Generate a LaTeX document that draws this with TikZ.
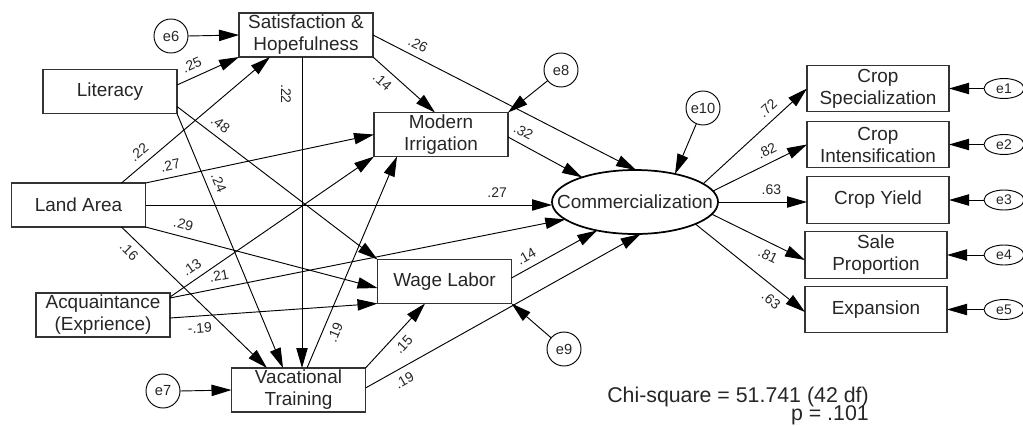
\documentclass[tikz,border=0pt]{standalone}
\usepackage{fontspec}
\setmainfont{Liberation Sans}
\usetikzlibrary{arrows.meta,calc,shapes.geometric}
\begin{document}
\begin{tikzpicture}[x=0.75pt,y=-0.75pt,
  box/.style={draw=black!80, line width=0.8pt, rectangle, minimum width=100.5pt, minimum height=33pt, inner sep=0pt, outer sep=0pt, align=center, font=\fontsize{14.2}{16.5}\selectfont, text=black!85},
  ind/.style={box, minimum width=106.5pt, minimum height=35pt},
  err/.style={draw, circle, line width=0.7pt, minimum size=25.5pt, inner sep=0pt, outer sep=0pt, font=\fontsize{11}{12}\selectfont, text=black!85},
  erre/.style={draw, ellipse, line width=0.7pt, minimum width=30pt, minimum height=15pt, inner sep=0pt, outer sep=0pt, font=\fontsize{10.5}{12}\selectfont, text=black!85},
  latent/.style={draw, ellipse, line width=1.3pt, minimum width=124.5pt, minimum height=48pt, inner sep=0pt, outer sep=0pt, font=\fontsize{14.2}{16.5}\selectfont, text=black!85},
  arr/.style={-{Triangle[length=15pt,width=8.5pt]}, line width=0.7pt},
  labf/.style={font=\fontsize{10.5}{11}\selectfont, text=black!85, inner sep=1pt},
  lab/.style={labf, sloped},
]
\useasboundingbox (0,0) rectangle (1023,425);
% observed boxes
\node[box] (sat) at (306,35) {Satisfaction \&\\Hopefulness};
\node[box] (lit) at (110,91.5) {Literacy};
\node[box] (land) at (78.5,205) {Land Area};
\node[box] (acq) at (103,315) {Acquaintance\\(Exprience)};
\node[box] (voc) at (298.5,390) {Vacational\\Training};
\node[box] (mod) at (441,134.5) {Modern\\Irrigation};
\node[box] (wage) at (444.5,281.5) {Wage Labor};
\node[latent] (comm) at (635,202) {\makebox[0pt]{Commercialization}};
\node[ind] (y1) at (878,88.5) {Crop\\Specialization};
\node[ind] (y2) at (878,144.5) {Crop\\Intensification};
\node[ind] (y3) at (878,200) {Crop Yield};
\node[ind] (y4) at (876,255) {Sale\\Proportion};
\node[ind] (y5) at (876,309.5) {Expansion};
% errors
\node[err] (e6) at (171,36) {e6};
\node[err] (e7) at (163,391) {e7};
\node[err] (e8) at (561,70) {e8};
\node[err] (e9) at (564,349) {e9};
\node[err] (e10) at (703,108) {e10};
\node[erre] (e1) at (1004,88.5) {e1};
\node[erre] (e2) at (1004,144.5) {e2};
\node[erre] (e3) at (1004,200) {e3};
\node[erre] (e4) at (1004,255) {e4};
\node[erre] (e5) at (1004,309.5) {e5};
% error arrows
\draw[arr] (e6.east) -- (sat.west);
\draw[arr] (e7.east) -- (voc.west);
\draw[arr] (e8) -- (mod.north east);
\draw[arr] (e9) -- (wage.south east);
\draw[arr] (e10) -- (comm.35);
\foreach \i in {1,...,5}{\draw[arr] (e\i.west) -- (y\i.east);}
% structural paths
\draw[arr] ($(lit.east)+(0,-6.5)$) -- (sat.south west) node[lab,pos=0.32,above=4pt]{.25};
\draw[arr] ($(land.north)+(43,0)$) -- ($(sat.south)+(-36,0)$) node[lab,pos=0.17,above=4pt]{.22};
\draw[arr] ($(lit.east)+(0,15)$) -- (wage.north west) node[lab,pos=0.18,above=4pt]{.48};
\draw[arr] (lit.south east) -- ($(voc.north)+(-15.5,0)$) node[lab,pos=0.29,above=4pt]{.24};
\draw[arr] (land.north east) -- (mod.west) node[lab,pos=0.12,above=4pt]{.27};
\draw[arr] (land.east) -- (land.east -| comm.west) node[lab,pos=0.865,above=4pt]{.27};
\draw[arr] (land.south east) -- ($(wage.west)+(0,6.5)$) node[lab,pos=0.15,above=4pt]{.29};
\draw[arr] ($(land.south)+(43,0)$) -- ($(voc.north)+(-31.5,0)$) node[lab,pos=0.11,below=4pt]{.16};
\draw[arr] ($(acq.north east)+(0,4)$) -- (mod.south west) node[lab,pos=0.14,above=4pt]{.13};
\draw[arr] ($(acq.north east)+(0,5)$) -- (comm.194) node[lab,pos=0.13,above=4pt]{.21};
\draw[arr] ($(acq.east)+(0,3)$) -- (wage.south west) node[lab,pos=0.14,below=4pt]{-.19};
\draw[arr] ($(sat.south)+(-4,0)$) coordinate (sv) -- (sv |- voc.north);
\node[labf, rotate=-90] (l22) at (286,94) {.22};
\draw[arr] (sat.south east) -- ($(mod.north)+(-6,0)$) node[lab,pos=0.28,below=4pt]{.14};
\draw[arr] (sat.east) -- (comm.88) node[lab,pos=0.15,above=4pt]{.26};
\draw[arr] ($(mod.east)+(0,2.5)$) -- (comm.155) node[lab,pos=0.13,above=4pt]{.32};
\draw[arr] ($(voc.north)+(8.5,0)$) -- ($(mod.south)+(-44,0)$) node[lab,pos=0.19,below=4pt]{.19};
\draw[arr] (voc.north east) -- ($(wage.south)+(-19.5,0)$) node[lab,pos=0.49,below=4pt]{.15};
\draw[arr] ($(voc.east)+(0,-2)$) -- (comm.-80) node[lab,pos=0.12,below=4pt]{.19};
\draw[arr] ($(wage.east)+(0,-3.5)$) -- (comm.217) node[lab,pos=0.24,above=4pt]{.14};
% measurement paths
\draw[arr] (comm.15) -- (y1.west) node[lab,pos=0.70,above=4pt]{.72};
\draw[arr] (comm.8) -- (y2.west) node[lab,pos=0.63,above=4pt]{.82};
\draw[arr] (comm.east) -- (comm.east -| y3.west) node[lab,pos=0.6,above=4pt]{.63};
\draw[arr] (comm.-9) -- ($(y4.west)+(0,5)$) node[lab,pos=0.66,below=4pt]{.81};
\draw[arr] (comm.-20) -- ($(y5.west)+(0,2.5)$) node[lab,pos=0.76,below=4pt]{.63};
% fit
\node[font=\fontsize{16}{18}\selectfont, text=black!85, anchor=base east, inner sep=0pt] (chi) at (869,402) {Chi-square = 51.741 (42 df)};
\node[font=\fontsize{16}{18}\selectfont, text=black!85, anchor=base east, inner sep=0pt] (pv) at (869,420) {p = .101};
\end{tikzpicture}
\end{document}
